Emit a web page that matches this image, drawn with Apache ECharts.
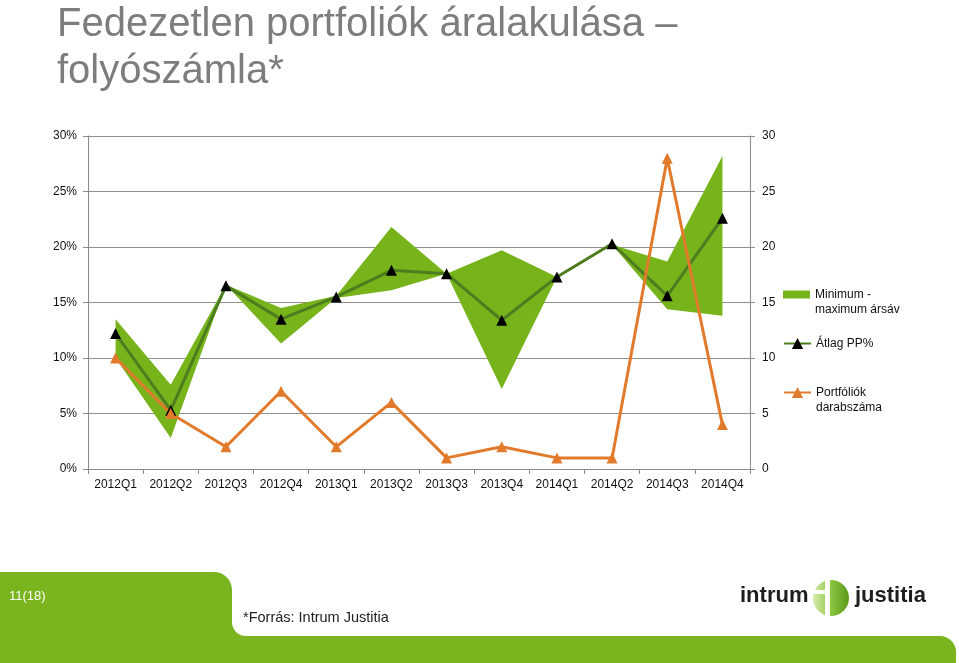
<!DOCTYPE html>
<html>
<head>
<meta charset="utf-8">
<script src="https://cdn.jsdelivr.net/npm/echarts@6/dist/echarts.min.js"></script>
<style>html,body{margin:0;padding:0;background:#fff}#c{width:959px;height:663px}</style>
</head>
<body>
<div id="c"></div>
<script>
var categories = ['2012Q1','2012Q2','2012Q3','2012Q4','2013Q1','2013Q2','2013Q3','2013Q4','2014Q1','2014Q2','2014Q3','2014Q4'];
var minVals = [10.0, 2.8, 16.6, 11.3, 15.4, 16.1, 17.6, 7.2, 17.3, 20.2, 14.4, 13.8];
var maxVals = [13.5, 7.6, 16.6, 14.5, 15.6, 21.8, 17.6, 19.7, 17.3, 20.2, 18.7, 28.2];
var avgVals = [12.2, 5.3, 16.5, 13.5, 15.5, 17.9, 17.6, 13.4, 17.3, 20.3, 15.6, 22.6];
var countVals = [10, 5, 2, 7, 2, 6, 1, 2, 1, 1, 28, 4];
var yTicks = [0, 5, 10, 15, 20, 25, 30];

var bandDiff = maxVals.map(function (v, i) { return +(v - minVals[i]).toFixed(2); });

var FONT = '"Liberation Sans", Arial, sans-serif';
var GREEN = '#77b41c';
var chart = echarts.init(document.getElementById('c'));
chart.setOption({
  animation: false,
  backgroundColor: '#fff',
  textStyle: { fontFamily: FONT },
  title: {
    text: 'Fedezetlen portfoliók áralakulása –\nfolyószámla*',
    left: 57, top: 1, padding: 0,
    textStyle: { fontFamily: FONT, fontSize: 40, fontWeight: 'normal', color: '#7d7d7d', lineHeight: 47 }
  },
  legend: [
    {
      orient: 'vertical', left: 783, top: 272, padding: 0, itemWidth: 27, itemHeight: 8,
      data: [{ name: 'Minimum - maximum ársáv', icon: 'rect', itemStyle: { color: GREEN } }],
      formatter: function () { return ' \nMinimum -\nmaximum ársáv'; },
      textStyle: { fontFamily: FONT, fontSize: 12, color: '#111', lineHeight: 15 }
    },
    {
      orient: 'vertical', left: 783, top: 336, padding: 0, itemWidth: 27, itemHeight: 14,
      data: ['Átlag PP%'],
      textStyle: { fontFamily: FONT, fontSize: 12, color: '#111', lineHeight: 15 }
    },
    {
      orient: 'vertical', left: 783, top: 370, padding: 0, itemWidth: 27, itemHeight: 14,
      data: ['Portfóliók darabszáma'],
      formatter: function () { return ' \nPortfóliók\ndarabszáma'; },
      textStyle: { fontFamily: FONT, fontSize: 12, color: '#111', lineHeight: 15 }
    }
  ],
  grid: { left: 88, right: 209, top: 136, bottom: 194, containLabel: false },
  xAxis: {
    type: 'category', data: categories, boundaryGap: true,
    axisLine: { lineStyle: { color: '#8a8a8a', width: 1 } },
    axisTick: { show: true, interval: 0, alignWithLabel: false, length: 5, lineStyle: { color: '#8a8a8a' } },
    axisLabel: { interval: 0, margin: 10, fontSize: 12, color: '#111', fontFamily: FONT },
    splitLine: { show: false }
  },
  yAxis: [
    {
      type: 'value', min: yTicks[0], max: yTicks[yTicks.length - 1], interval: 5,
      axisLine: { show: true, lineStyle: { color: '#8a8a8a' } },
      axisTick: { show: true, length: 5, lineStyle: { color: '#8a8a8a' } },
      axisLabel: { formatter: '{value}%', margin: 11, fontSize: 12, color: '#111', fontFamily: FONT },
      splitLine: { show: true, lineStyle: { color: '#8f8f8f', width: 1 } }
    },
    {
      type: 'value', min: yTicks[0], max: yTicks[yTicks.length - 1], interval: 5, position: 'right',
      axisLine: { show: true, lineStyle: { color: '#8a8a8a' } },
      axisTick: { show: true, length: 5, lineStyle: { color: '#8a8a8a' } },
      axisLabel: { margin: 12, fontSize: 12, color: '#111', fontFamily: FONT },
      splitLine: { show: false }
    }
  ],
  series: [
    {
      name: 'bandBase', type: 'line', stack: 'band', data: minVals, yAxisIndex: 0,
      symbol: 'none', lineStyle: { opacity: 0 }, silent: true
    },
    {
      name: 'Minimum - maximum ársáv', type: 'line', stack: 'band', data: bandDiff, yAxisIndex: 0,
      symbol: 'none', lineStyle: { opacity: 0, width: 0 }, itemStyle: { color: GREEN },
      areaStyle: { color: GREEN, opacity: 1 }, silent: true
    },
    {
      name: 'Átlag PP%', type: 'line', data: avgVals, yAxisIndex: 0,
      symbol: 'triangle', symbolSize: 11,
      lineStyle: { color: '#4d7d1e', width: 3 }, itemStyle: { color: '#000' }
    },
    {
      name: 'Portfóliók darabszáma', type: 'line', data: countVals, yAxisIndex: 1,
      symbol: 'triangle', symbolSize: 11,
      lineStyle: { color: '#e27a2b', width: 3 }, itemStyle: { color: '#e27a2b' }
    }
  ],
  graphic: [
    { type: 'rect', shape: { x: 0, y: 636, width: 956, height: 27, r: [0, 16, 0, 0] }, style: { fill: '#7ab520' }, silent: true },
    { type: 'rect', shape: { x: 0, y: 572, width: 232, height: 80, r: [0, 18, 0, 0] }, style: { fill: '#7ab520' }, silent: true },
    { type: 'rect', shape: { x: 230, y: 620, width: 18, height: 17 }, style: { fill: '#7ab520' }, silent: true },
    { type: 'rect', shape: { x: 232, y: 595, width: 40, height: 41, r: [0, 0, 0, 14] }, style: { fill: '#fff' }, silent: true },
    { type: 'text', left: 9, top: 590, style: { text: '11(18)', fill: '#fff', font: '13px ' + FONT } },
    { type: 'text', left: 243, top: 610, style: { text: '*Forrás: Intrum Justitia', fill: '#222', font: '14.5px ' + FONT } },
    { type: 'circle', shape: { cx: 831, cy: 598, r: 18 }, style: { fill: new echarts.graphic.LinearGradient(0, 0, 1, 0, [{ offset: 0, color: '#d9ecb0' }, { offset: 0.5, color: '#8cc63f' }, { offset: 1, color: '#5a9a1a' }]) }, silent: true },
    { type: 'rect', shape: { x: 825, y: 580, width: 5, height: 36 }, style: { fill: '#fff' }, silent: true },
    { type: 'rect', shape: { x: 813, y: 590, width: 14, height: 4 }, style: { fill: '#fff' }, silent: true },
    { type: 'text', left: 740, top: 585, style: { text: 'intrum', fill: '#1e1e1e', font: 'bold 22px ' + FONT } },
    { type: 'text', left: 855, top: 585, style: { text: 'justitia', fill: '#1e1e1e', font: 'bold 22px ' + FONT } }
  ]
});
</script>
</body>
</html>
